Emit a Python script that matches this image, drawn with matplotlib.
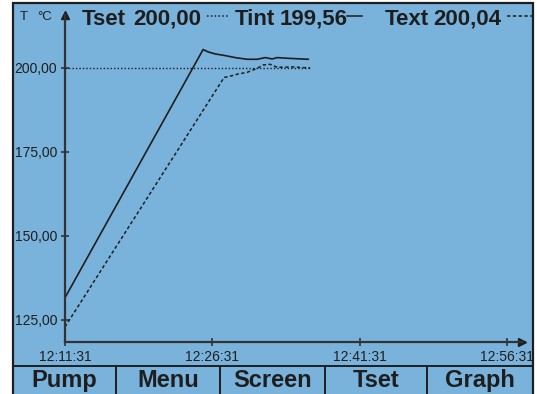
import matplotlib.pyplot as plt
from matplotlib.patches import Rectangle
from matplotlib.lines import Line2D

# minutes since 12:11:31 and temperatures in degC
t_int_min = [0.0, 14.05, 14.56, 15.27, 16.29, 17.31, 18.53, 19.55, 20.37, 21.08, 21.59, 22.6, 24.75]
t_int_val = [131.5, 205.5, 204.8, 204.2, 203.7, 203.1, 202.6, 202.6, 203.1, 202.7, 203.1, 202.9, 202.6]

t_ext_min = [0.0, 16.19, 16.6, 17.6, 18.53, 19.55, 20.16, 20.88, 21.59, 23.22, 24.95]
t_ext_val = [122.8, 197.2, 197.4, 198.2, 198.7, 199.9, 200.9, 201.1, 200.2, 200.3, 200.0]

t_set_min = [0.0, 25.0]
t_set_val = [200.0, 200.0]

y_ticks = [125, 150, 175, 200]
y_labels = ["125,00", "150,00", "175,00", "200,00"]
x_ticks = [0, 15, 30, 45]
x_labels = ["12:11:31", "12:26:31", "12:41:31", "12:56:31"]

buttons = ["Pump", "Menu", "Screen", "Tset", "Graph"]
header = [("Tset", "200,00"), ("Tint", "199,56"), ("Text", "200,04")]

W, H = 537, 394
BG = "#79b3db"
INK = "#1e1e1e"


def fx(x):
    return x / W


def fy(y):
    return 1 - y / H


fig = plt.figure(figsize=(W / 100, H / 100), dpi=100, facecolor="white")

# display panel
fig.patches.append(Rectangle((fx(13), fy(400)), fx(520), 397 / H, transform=fig.transFigure,
                             facecolor=BG, edgecolor=INK, linewidth=1.6, zorder=-1))

ax = fig.add_axes([fx(65), fy(342), fx(457), (342 - 15) / H])
ax.set_zorder(2)
ax.set_facecolor("none")
ax.set_xlim(0, 46.5)
ax.set_ylim(118.3, 215.8)

ax.plot(t_set_min, t_set_val, color=INK, linewidth=1.0, linestyle=(0, (1, 1.5)))
ax.plot(t_int_min, t_int_val, color=INK, linewidth=1.2)
ax.plot(t_ext_min, t_ext_val, color=INK, linewidth=1.1, linestyle=(0, (2.2, 1.6)))

for side in ["top", "right"]:
    ax.spines[side].set_visible(False)
for side in ["left", "bottom"]:
    ax.spines[side].set_color("#333333")
    ax.spines[side].set_linewidth(1.6)

ax.set_yticks(y_ticks)
ax.set_yticklabels(y_labels)
ax.set_xticks(x_ticks)
ax.set_xticklabels(x_labels)
ax.tick_params(direction="inout", length=6, width=1.2, color="#333333", pad=2.5,
               labelsize=10, labelcolor=INK)
for lab in ax.get_xticklabels() + ax.get_yticklabels():
    lab.set_family("Liberation Sans")

# axis arrows
ax.plot([0], [1], marker="^", markersize=6, color=INK, transform=ax.transAxes, clip_on=False)
ax.plot([1], [0], marker=">", markersize=6, color=INK, transform=ax.transAxes, clip_on=False)

# axis unit labels
fig.text(fx(20), fy(17), "T", fontsize=9.5, family="Liberation Sans", color=INK, va="center")
fig.text(fx(37), fy(17), "°C", fontsize=9.5, family="Liberation Sans", color=INK, va="center")

# header with current values and line keys
name_x = [82, 235, 385]
val_x = [133, 280, 433]
key_x = [(207, 228), (347, 362), (507, 533)]
key_style = [(0, (1, 1.5)), "-", (0, (2.2, 1.6))]
for (name, val), nx, vx, (k0, k1), ls in zip(header, name_x, val_x, key_x, key_style):
    fig.text(fx(nx), fy(25), name, fontsize=16, fontweight="bold", family="Liberation Sans",
             color=INK, va="baseline")
    fig.text(fx(vx), fy(25), val, fontsize=16, fontweight="bold", family="Liberation Sans",
             color=INK, va="baseline")
    fig.lines.append(Line2D([fx(k0), fx(k1)], [fy(16), fy(16)], transform=fig.transFigure,
                            color=INK, linewidth=1.1, linestyle=ls))

# button bar
fig.lines.append(Line2D([fx(13), fx(533)], [fy(366), fy(366)], transform=fig.transFigure,
                        color=INK, linewidth=1.4))
edges = [13, 116, 220, 325, 427, 533]
for i, name in enumerate(buttons):
    if 0 < i:
        fig.lines.append(Line2D([fx(edges[i]), fx(edges[i])], [fy(366), fy(400)],
                                transform=fig.transFigure, color=INK, linewidth=1.4))
    cx = (edges[i] + edges[i + 1]) / 2
    fig.text(fx(cx), fy(387), name, fontsize=17, fontweight="bold", family="Liberation Sans",
             color=INK, ha="center", va="baseline")

fig.savefig("out.png", dpi=100, facecolor="white")
